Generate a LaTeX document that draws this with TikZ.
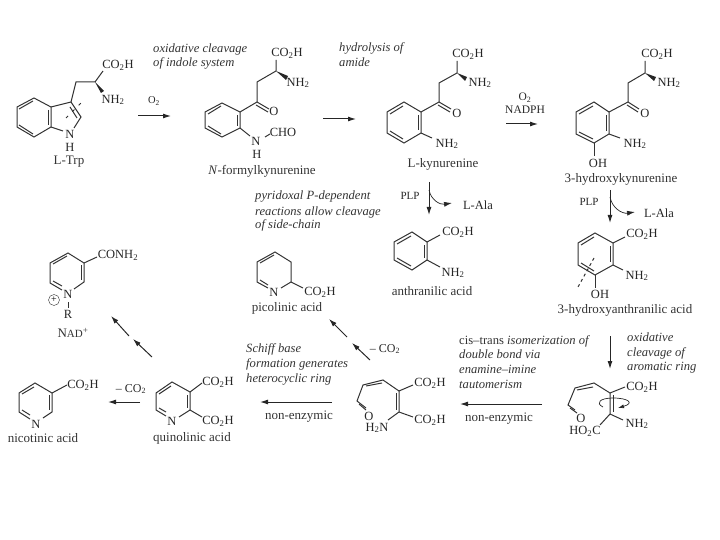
\documentclass[tikz,border=0pt]{standalone}
\usepackage{fontspec}
\setmainfont{Liberation Serif}
\usetikzlibrary{arrows.meta}
\tikzset{
  bond/.style={line width=1pt,draw=black!80},
  rxn/.style={line width=1pt,draw=black!85,-{Latex[length=8pt,width=5pt]}},
  note/.style={font=\itshape\fontsize{12.6}{14}\selectfont,text=black!80,anchor=base west,inner sep=0pt},
  chem/.style={font=\fontsize{12.5}{14}\selectfont,text=black!85,inner sep=0pt},
  label/.style={font=\fontsize{13}{14}\selectfont,text=black!80,inner sep=0pt}
}
\newcommand{\cotwoh}{CO\textsubscript{2}H}
\newcommand{\nhtwo}{NH\textsubscript{2}}
% six-membered ring
\newcommand{\ringlines}[6]{
\draw[bond] #1 -- #2 -- #3 -- #4 -- #5 -- #6 -- cycle;
}
\begin{document}
\begin{tikzpicture}[x=1pt,y=-1pt]
\useasboundingbox (0,0) rectangle (720,540);
% L-Trp
\ringlines{(17,107)}{(34,98)}{(51,107)}{(51,127)}{(34,137)}{(17,127)}
\draw[bond] (19,109) -- (33,101);
\draw[bond] (48,110) -- (48,125);
\draw[bond] (19,125) -- (33,134);
\draw[bond] (51,107) -- (71,102) -- (81,117) -- (74,128);
\draw[bond] (51,127) -- (63,131);
\draw[bond] (70,107) -- (77,118);
\draw[bond] (71,102) -- (76,82) -- (95,82) -- (103,71);
\fill[black!85] (95,82) -- (104,91) -- (101,93) -- cycle;
\draw[bond,dash pattern=on 3pt off 6pt] (66,118) -- (84,100);
\node[chem] (trpacid) at (118,65) {\cotwoh};
\node[chem] (trpamine) at (113,100) {\nhtwo};
\node[chem] (trpn) at (70,134) {N};
\node[chem] (trph) at (70,147) {H};
\node[label] (trp) at (69,162) {L-Trp};
% first step
\node[chem,font=\fontsize{10.5}{11}\selectfont] (oxa) at (154,101) {O\textsubscript{2}};
\coordinate (a1) at (138,116); \coordinate (a2) at (171,116);
\draw[rxn] (a1) -- (a2);
\node[note] (n1) at (153,53) {oxidative cleavage};
\node[note] (n1b) at (153,67) {of indole system};
% N-formylkynurenine
\ringlines{(205,112)}{(222,103)}{(240,112)}{(240,128)}{(222,137)}{(205,128)}
\draw[bond] (208,114) -- (221,106);
\draw[bond] (237,115) -- (237,126);
\draw[bond] (208,126) -- (221,134);
\draw[bond] (240,112) -- (257,102) -- (257,82) -- (276,71) -- (276,60);
\draw[bond] (257,102) -- (269,109);
\draw[bond] (256,105) -- (268,112);
\fill[black!85] (276,71) -- (288,76) -- (286,80) -- cycle;
\draw[bond] (240,128) -- (250,136);
\draw[bond] (265,137) -- (270,134);
\node[chem] (fkacid) at (287,53) {\cotwoh};
\node[chem] (fkamine) at (298,83) {\nhtwo};
\node[chem] (fko) at (274,111) {O};
\node[chem] (fkn) at (256,141) {N};
\node[chem] (fkh) at (257,154) {H};
\node[chem] (fkcho) at (283,132) {CHO};
\node[label] (fk) at (262,171) {\textit{N}-formylkynurenine};
% second step
\coordinate (b1) at (323,119); \coordinate (b2) at (356,119);
\draw[rxn] (b1) -- (b2);
\node[note] (n2) at (339,52) {hydrolysis of};
\node[note] (n2b) at (339,67) {amide};
% L-kynurenine
\ringlines{(387,112)}{(404,102)}{(421,112)}{(421,133)}{(404,143)}{(387,133)}
\draw[bond] (390,114) -- (403,106);
\draw[bond] (418,115) -- (418,130);
\draw[bond] (390,131) -- (403,139);
\draw[bond] (421,112) -- (439,102) -- (439,83) -- (457,73) -- (457,61);
\draw[bond] (439,102) -- (451,109);
\draw[bond] (438,105) -- (450,112);
\fill[black!85] (457,73) -- (467,77) -- (465,81) -- cycle;
\draw[bond] (421,133) -- (432,138);
\node[chem] (kyacid) at (468,54) {\cotwoh};
\node[chem] (kyamine) at (480,83) {\nhtwo};
\node[chem] (kyo) at (457,113) {O};
\node[chem] (kyan) at (447,144) {\nhtwo};
\node[label] (ky) at (443,164) {L-kynurenine};
% third step
\node[chem,font=\fontsize{11.5}{12}\selectfont] (oxb) at (525,98) {O\textsubscript{2}};
\node[chem,font=\fontsize{11.5}{12}\selectfont] (nadph) at (525,110) {NADPH};
\coordinate (c1) at (506,124); \coordinate (c2) at (538,124);
\draw[rxn] (c1) -- (c2);
% 3-hydroxykynurenine
\ringlines{(576,112)}{(594,102)}{(609,112)}{(609,134)}{(594,143)}{(576,134)}
\draw[bond] (579,114) -- (593,106);
\draw[bond] (606,115) -- (606,131);
\draw[bond] (579,132) -- (593,139);
\draw[bond] (609,112) -- (628,102) -- (628,83) -- (645,73) -- (645,61);
\draw[bond] (628,102) -- (639,109);
\draw[bond] (627,105) -- (638,112);
\fill[black!85] (645,73) -- (656,77) -- (654,81) -- cycle;
\draw[bond] (609,134) -- (620,138);
\draw[bond] (594,143) -- (594,156);
\node[chem] (hkacid) at (657,54) {\cotwoh};
\node[chem] (hkamine) at (669,83) {\nhtwo};
\node[chem] (hko) at (645,113) {O};
\node[chem] (hkan) at (635,144) {\nhtwo};
\node[chem] (hkoh) at (598,163) {OH};
\node[label] (hk) at (621,179) {3-hydroxykynurenine};
% PLP steps
\node[chem,font=\fontsize{11}{12}\selectfont] (plpa) at (410,196) {PLP};
\coordinate (d1) at (429,182); \coordinate (d2) at (429,215);
\coordinate (d3) at (429,190); \coordinate (d4) at (452,203);
\draw[rxn] (d1) -- (d2);
\draw[rxn,line width=0.7pt] (d3) .. controls (431,200) and (440,205) .. (d4);
\node[chem] (alaa) at (478,205) {L-Ala};
\node[chem,font=\fontsize{11}{12}\selectfont] (plpb) at (589,202) {PLP};
\coordinate (e1) at (610,190); \coordinate (e2) at (610,223);
\coordinate (e3) at (610,197); \coordinate (e4) at (635,212);
\draw[rxn] (e1) -- (e2);
\draw[rxn,line width=0.7pt] (e3) .. controls (612,208) and (622,214) .. (e4);
\node[chem] (alab) at (659,213) {L-Ala};
\node[note] (n3) at (255,200) {pyridoxal P-dependent};
\node[note] (n3b) at (255,215) {reactions allow cleavage};
\node[note] (n3c) at (255,229) {of side-chain};
% anthranilic acid
\ringlines{(394,242)}{(412,232)}{(427,242)}{(427,260)}{(412,270)}{(394,260)}
\draw[bond] (397,244) -- (411,236);
\draw[bond] (424,245) -- (424,258);
\draw[bond] (397,258) -- (411,266);
\draw[bond] (427,242) -- (440,235);
\draw[bond] (427,260) -- (440,267);
\node[chem] (anacid) at (458,232) {\cotwoh};
\node[chem] (anamine) at (453,273) {\nhtwo};
\node[label] (an) at (432,291) {anthranilic acid};
% 3-hydroxyanthranilic acid
\ringlines{(578,243)}{(595,233)}{(613,243)}{(613,265)}{(595,275)}{(578,265)}
\draw[bond] (581,245) -- (594,237);
\draw[bond] (610,246) -- (610,262);
\draw[bond] (581,263) -- (594,271);
\draw[bond] (613,243) -- (625,237);
\draw[bond] (613,265) -- (623,270);
\draw[bond] (595,275) -- (595,288);
\draw[bond,dash pattern=on 3pt off 3pt] (594,258) -- (578,287);
\node[chem] (haacid) at (642,234) {\cotwoh};
\node[chem] (haamine) at (637,276) {\nhtwo};
\node[chem] (haoh) at (600,294) {OH};
\node[label] (ha) at (625,310) {3-hydroxyanthranilic acid};
% NAD+
\draw[bond] (62,290) -- (50,283) -- (50,263) -- (68,253) -- (84,263) -- (84,282) -- (74,289);
\draw[bond] (53,264) -- (67,256);
\draw[bond] (81,265) -- (81,280);
\draw[bond] (53,281) -- (62,286);
\draw[bond] (84,263) -- (97,257);
\draw[bond] (68,302) -- (68,308);
\node[chem] (cona) at (118,255) {CONH\textsubscript{2}};
\node[chem] (nadn) at (68,294) {N};
\node[chem] (nadr) at (68,314) {R};
\node[draw=black!80,circle,minimum size=11pt,inner sep=0pt,font=\fontsize{10}{10}\selectfont] (plus) at (54,300) {+};
\node[label] (nad) at (73,333) {N{\fontsize{11}{12}\selectfont AD}\textsuperscript{+}};
% picolinic acid
\draw[bond] (268,288) -- (257,282) -- (257,262) -- (275,252) -- (291,262) -- (291,282) -- (281,288);
\draw[bond] (260,263) -- (274,255);
\draw[bond] (260,280) -- (268,285);
\draw[bond] (291,282) -- (303,288);
\node[chem] (pin) at (274,292) {N};
\node[chem] (piacid) at (320,292) {\cotwoh};
\node[label] (pi) at (287,308) {picolinic acid};
% arrows to NAD and picolinic acid
\coordinate (f1) at (129,336); \coordinate (f2) at (111,316);
\coordinate (f3) at (152,357); \coordinate (f4) at (133,339);
\draw[rxn] (f1) -- (f2);
\draw[rxn] (f3) -- (f4);
\coordinate (g1) at (347,337); \coordinate (g2) at (329,319);
\coordinate (g3) at (370,360); \coordinate (g4) at (352,343);
\draw[rxn] (g1) -- (g2);
\draw[rxn] (g3) -- (g4);
\node[chem,font=\fontsize{12}{13}\selectfont] (lossa) at (385,349) {-- CO\textsubscript{2}};
% nicotinic acid
\draw[bond] (30,419) -- (19,412) -- (19,393) -- (35,383) -- (52,393) -- (52,412) -- (43,418);
\draw[bond] (22,394) -- (34,387);
\draw[bond] (49,395) -- (49,410);
\draw[bond] (22,410) -- (30,415);
\draw[bond] (52,393) -- (67,385);
\node[chem] (nin) at (36,424) {N};
\node[chem] (niacid) at (83,385) {\cotwoh};
\node[label] (ni) at (43,438) {nicotinic acid};
\node[chem,font=\fontsize{12}{13}\selectfont] (lossb) at (131,389) {-- CO\textsubscript{2}};
\coordinate (h1) at (140,402); \coordinate (h2) at (108,402);
\draw[rxn] (h1) -- (h2);
% quinolinic acid
\draw[bond] (166,416) -- (156,410) -- (156,393) -- (172,382) -- (190,392) -- (190,410) -- (179,417);
\draw[bond] (159,394) -- (171,386);
\draw[bond] (187,395) -- (187,408);
\draw[bond] (159,408) -- (166,412);
\draw[bond] (190,392) -- (202,383);
\draw[bond] (190,410) -- (202,417);
\node[chem] (qun) at (172,421) {N};
\node[chem] (quacida) at (218,382) {\cotwoh};
\node[chem] (quacidb) at (218,421) {\cotwoh};
\node[label] (qu) at (192,438) {quinolinic acid};
\coordinate (i1) at (332,402); \coordinate (i2) at (260,402);
\draw[rxn] (i1) -- (i2);
\node[label] (nea) at (299,417) {non-enzymic};
\node[note] (n4) at (246,352) {Schiff base};
\node[note] (n4b) at (246,367) {formation generates};
\node[note] (n4c) at (246,382) {heterocyclic ring};
% open chain, cis form
\draw[bond] (366,408) -- (357,401) -- (363,385) -- (383,380) -- (399,391) -- (399,412);
\draw[bond] (359,404) -- (366,410);
\draw[bond] (366,386) -- (382,383);
\draw[bond] (396,393) -- (396,410);
\draw[bond] (399,391) -- (413,385);
\draw[bond] (399,412) -- (413,417);
\draw[bond] (399,412) -- (388,420);
\node[chem] (oco) at (369,416) {O};
\node[chem] (oacida) at (430,383) {\cotwoh};
\node[chem] (oacidb) at (430,420) {\cotwoh};
\node[chem] (oamine) at (377,428) {H\textsubscript{2}N};
\coordinate (j1) at (542,404); \coordinate (j2) at (460,404);
\draw[rxn] (j1) -- (j2);
\node[label] (neb) at (499,419) {non-enzymic};
\node[note] (n5) at (459,344) {\textup{cis--trans} isomerization of};
\node[note] (n5b) at (459,358) {double bond via};
\node[note] (n5c) at (459,373) {enamine--imine};
\node[note] (n5d) at (459,388) {tautomerism};
\coordinate (k1) at (610,336); \coordinate (k2) at (610,369);
\draw[rxn] (k1) -- (k2);
\node[note] (n6) at (627,341) {oxidative};
\node[note] (n6b) at (627,356) {cleavage of};
\node[note] (n6c) at (627,370) {aromatic ring};
% open chain, trans form
\draw[bond] (575,410) -- (568,405) -- (575,388) -- (594,383) -- (610,393) -- (610,414);
\draw[bond] (570,408) -- (577,413);
\draw[bond] (577,390) -- (593,387);
\draw[bond] (613,395) -- (613,412);
\draw[bond] (610,393) -- (625,387);
\draw[bond] (610,414) -- (623,420);
\draw[bond] (610,414) -- (600,425);
\coordinate (r1) at (603,407); \coordinate (r2) at (618,408);
\draw[line width=0.7pt,draw=black!85,-{Latex[length=6pt,width=4pt]}] (r1) .. controls (595,403) and (600,398) .. (613,398) .. controls (628,398) and (635,403) .. (r2);
\node[chem] (tacid) at (642,387) {\cotwoh};
\node[chem] (tamine) at (637,424) {\nhtwo};
\node[chem] (to) at (581,418) {O};
\node[chem] (thoc) at (585,431) {HO\textsubscript{2}C};
\end{tikzpicture}
\end{document}
